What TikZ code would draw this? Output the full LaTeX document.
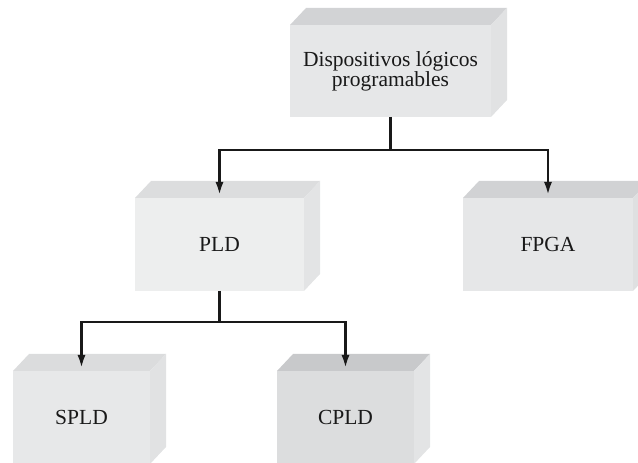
\documentclass[tikz,border=0pt]{standalone}
\usepackage{fontspec}
\setmainfont{Liberation Serif}
\usetikzlibrary{arrows.meta}

\definecolor{dlpfront}{HTML}{E6E7E8}
\definecolor{dlptop}{HTML}{D2D3D5}
\definecolor{dlpside}{HTML}{E1E2E3}
\definecolor{pldfront}{HTML}{EDEEEE}
\definecolor{pldtop}{HTML}{DCDDDE}
\definecolor{pldside}{HTML}{E3E4E5}
\definecolor{fpgafront}{HTML}{E6E7E8}
\definecolor{fpgatop}{HTML}{D1D2D4}
\definecolor{fpgaside}{HTML}{DFE0E1}
\definecolor{spldfront}{HTML}{E7E8E9}
\definecolor{spldtop}{HTML}{DBDCDD}
\definecolor{spldside}{HTML}{E1E2E3}
\definecolor{cpldfront}{HTML}{DCDDDE}
\definecolor{cpldtop}{HTML}{C8C9CB}
\definecolor{cpldside}{HTML}{E3E4E5}

\tikzset{
  front/.style={draw=none,minimum height=93pt,inner sep=2pt,outer sep=0pt,align=center,
    font=\fontsize{21.5}{20}\selectfont,text=black!90},
  link/.style={line width=2.4pt,draw=black!90},
  arr/.style={link,-{Latex[length=13pt,width=8pt]},shorten >=3pt}
}

\begin{document}
\begin{tikzpicture}[x=1pt,y=1pt]
\useasboundingbox (0,0) rectangle (638,463);
\clip (0,0) rectangle (638,463);
\node[front,fill=dlpfront,minimum width=201pt,minimum height=92pt] (dlp) at (390.5,392) {Dispositivos lógicos\\programables};
\node[front,fill=pldfront,minimum width=169pt] (pld) at (219.5,218.5) {PLD};
\node[front,fill=fpgafront,minimum width=170pt] (fpga) at (548,218.5) {FPGA};
\node[front,fill=spldfront,minimum width=137pt] (spld) at (81.5,45.5) {SPLD};
\node[front,fill=cpldfront,minimum width=137pt] (cpld) at (345.5,45.5) {CPLD};
% top and side faces
\fill[dlptop] (dlp.north west) -- ([shift={(16,17)}]dlp.north west) -- ([shift={(16,17)}]dlp.north east) -- (dlp.north east) -- cycle;
\fill[dlpside] (dlp.north east) -- ([shift={(16,17)}]dlp.north east) -- ([shift={(16,17)}]dlp.south east) -- (dlp.south east) -- cycle;
\fill[pldtop] (pld.north west) -- ([shift={(16,17)}]pld.north west) -- ([shift={(16,17)}]pld.north east) -- (pld.north east) -- cycle;
\fill[pldside] (pld.north east) -- ([shift={(16,17)}]pld.north east) -- ([shift={(16,17)}]pld.south east) -- (pld.south east) -- cycle;
\fill[fpgatop] (fpga.north west) -- ([shift={(16,17)}]fpga.north west) -- ([shift={(16,17)}]fpga.north east) -- (fpga.north east) -- cycle;
\fill[fpgaside] (fpga.north east) -- ([shift={(16,17)}]fpga.north east) -- ([shift={(16,17)}]fpga.south east) -- (fpga.south east) -- cycle;
\fill[spldtop] (spld.north west) -- ([shift={(16,17)}]spld.north west) -- ([shift={(16,17)}]spld.north east) -- (spld.north east) -- cycle;
\fill[spldside] (spld.north east) -- ([shift={(16,17)}]spld.north east) -- ([shift={(16,17)}]spld.south east) -- (spld.south east) -- cycle;
\fill[cpldtop] (cpld.north west) -- ([shift={(16,17)}]cpld.north west) -- ([shift={(16,17)}]cpld.north east) -- (cpld.north east) -- cycle;
\fill[cpldside] (cpld.north east) -- ([shift={(16,17)}]cpld.north east) -- ([shift={(16,17)}]cpld.south east) -- (cpld.south east) -- cycle;
% connectors
\coordinate (j1) at (dlp.south |- 0,313);
\coordinate (j2) at (pld.south |- 0,141);
\draw[link] (dlp.south) -- (j1);
\draw[arr] (j1) -| (pld.north);
\draw[arr] (j1) -| (fpga.north);
\draw[link] (pld.south) -- (j2);
\draw[arr] (j2) -| (spld.north);
\draw[arr] (j2) -| (cpld.north);
\end{tikzpicture}
\end{document}
